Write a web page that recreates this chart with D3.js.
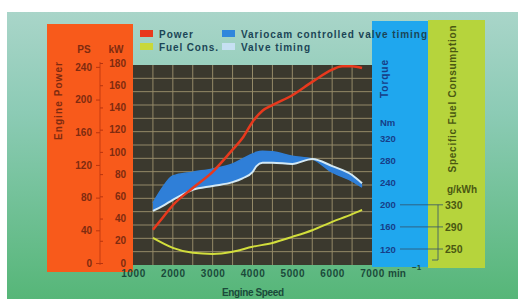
<!DOCTYPE html>
<html><head><meta charset="utf-8">
<script src="https://cdn.jsdelivr.net/npm/d3@7"></script>
<style>body{margin:0;background:#fff}svg{display:block}text{font-family:"Liberation Sans",Arial,sans-serif;font-weight:bold}</style>
</head><body><svg id="c" width="522" height="299"></svg>
<script>
// ---- data ----
const xTicks = [1000,2000,3000,4000,5000,6000,7000];
const psTicks = [0,40,80,120,160,200,240];
const kwTicks = [0,20,40,60,80,100,120,140,160,180];
const torqueTicks = [120,160,200,240,280,320];
const fuelTicks = [250,290,330];
const bracketTicks = [200,160,120];

const powerRpm = [1500,1750,2000,2500,3000,3500,3750,4000,4250,4500,5000,5500,6000,6250,6500,6750];
const powerKw  = [30,41,52,67.5,82,102,112.5,127,137,142,151,163,174,177,177,175.5];

const torqueRpm = [1500,1750,2000,2500,3000,3500,3750,4000,4100,4250,4500,5000,5500,6000,6500,6750];
const variocamNm = [203,232,252,259,265,274,283,292,295,297,296,288,283,259,243,232];
const valveNm    = [189,198,209,227,234,241,248,259,270,276,276,274,283,270,254,239];

const fuelRpm = [1500,2000,2500,3000,3500,4000,4500,5000,5500,6000,6500,6750];
const fuelG   = [270,252,243,241,245,254,261,272,284,299,313,321];

const legendItems = [
  {label:"Power", color:"#e8391d", col:0, row:0, len:34},
  {label:"Fuel Cons.", color:"#c8d83a", col:0, row:1, len:59},
  {label:"Variocam controlled valve timing", color:"#2f86dc", col:1, row:0, len:186},
  {label:"Valve timing", color:"#c6e0f2", col:1, row:1, len:69}
];

// ---- drawing ----
const svg = d3.select("#c");
const defs = svg.append("defs");
const g = defs.append("linearGradient").attr("id","bg").attr("x1",0).attr("y1",0).attr("x2",0).attr("y2",1);
g.append("stop").attr("offset","0%").attr("stop-color","#a9d5c9");
g.append("stop").attr("offset","35%").attr("stop-color","#8ccbb5");
g.append("stop").attr("offset","100%").attr("stop-color","#56b678");

svg.append("rect").attr("width",522).attr("height",299).attr("fill","#fff");
svg.append("rect").attr("x",7).attr("y",12).attr("width",511).attr("height",287).attr("fill","url(#bg)");

const P = {l:133, r:372, t:65, b:265};
const x = d3.scaleLinear().domain([1000,7000]).range([P.l,P.r]);
const kw = d3.scaleLinear().domain([0,180]).range([263,63]);
const ps = d3.scaleLinear().domain([0,240]).range([kw(0), kw(240*0.7355)]);
const tq = d3.scaleLinear().domain([120,320]).range([249,138.5]);
const fu = d3.scaleLinear().domain([250,330]).range([tq(120), tq(200)]);
const grid = d3.scaleLinear().domain([0,15]).range([P.b,P.t]);

// panels
svg.append("rect").attr("x",47).attr("y",24).attr("width",86).attr("height",248).attr("fill","#f85a1b");
svg.append("rect").attr("x",372).attr("y",21).attr("width",56).attr("height",246).attr("fill","#1fa7ee");
svg.append("rect").attr("x",428).attr("y",20).attr("width",57).attr("height",248).attr("fill","#b6d43c");
svg.append("rect").attr("x",P.l).attr("y",P.t).attr("width",P.r-P.l).attr("height",P.b-P.t).attr("fill","#3b392e");

// grid
const gg = svg.append("g").attr("stroke","#b2a57c").attr("stroke-width",1).attr("opacity",0.75);
gg.selectAll("line.v").data(d3.range(1500,7000,500)).join("line")
  .attr("x1",d=>x(d)).attr("x2",d=>x(d)).attr("y1",P.t).attr("y2",P.b);
gg.selectAll("line.h").data(d3.range(1,15)).join("line")
  .attr("y1",d=>grid(d)).attr("y2",d=>grid(d)).attr("x1",P.l).attr("x2",P.r);

// band
const bandData = torqueRpm.map((r,i)=>({r, a:variocamNm[i], b:valveNm[i]}));
svg.append("path").datum(bandData).attr("fill","#2f7fd8")
  .attr("d", d3.area().curve(d3.curveMonotoneX).x(d=>x(d.r)).y0(d=>tq(d.b)).y1(d=>tq(d.a)));
svg.append("path").datum(bandData).attr("fill","none").attr("stroke","#2f7fd8").attr("stroke-width",1.5)
  .attr("d", d3.line().curve(d3.curveMonotoneX).x(d=>x(d.r)).y(d=>tq(d.a)));
svg.append("path").datum(bandData).attr("fill","none").attr("stroke","#d3e9f5").attr("stroke-width",2)
  .attr("d", d3.line().curve(d3.curveMonotoneX).x(d=>x(d.r)).y(d=>tq(d.b)));

// fuel
svg.append("path").datum(fuelRpm.map((r,i)=>[r,fuelG[i]])).attr("fill","none")
  .attr("stroke","#d2de3c").attr("stroke-width",2)
  .attr("d", d3.line().curve(d3.curveMonotoneX).x(d=>x(d[0])).y(d=>fu(d[1])));
// power
svg.append("path").datum(powerRpm.map((r,i)=>[r,powerKw[i]])).attr("fill","none")
  .attr("stroke","#e8391d").attr("stroke-width",2.5)
  .attr("d", d3.line().curve(d3.curveMonotoneX).x(d=>x(d[0])).y(d=>kw(d[1])));

// axes
function style(sel, color, size){
  sel.select(".domain").remove();
  sel.selectAll("text").attr("fill",color).style("font-size",size+"px").style("font-family","'Liberation Sans',Arial,sans-serif").style("font-weight","bold");
}
const orangeText = "#7e2b10";
svg.append("line").attr("x1",100).attr("x2",100).attr("y1",62).attr("y2",265).attr("stroke","#b8340e").attr("stroke-width",0.8);
const psAx = svg.append("g").attr("transform","translate(100,0)")
  .call(d3.axisLeft(ps).tickValues(psTicks).tickSize(4).tickPadding(4).tickFormat(d3.format("d")));
style(psAx, orangeText, 10); psAx.selectAll("line").attr("stroke","#b8340e");
const kwAx = svg.append("g").attr("transform","translate(100,0)")
  .call(d3.axisRight(kw).tickValues(kwTicks).tickSize(3).tickPadding(0).tickFormat(""));
kwAx.select(".domain").remove(); kwAx.selectAll("line").attr("stroke","#b8340e");
const kwAx2 = svg.append("g").attr("transform","translate(126,0)")
  .call(d3.axisLeft(kw).tickValues(kwTicks).tickSize(0).tickPadding(0).tickFormat(d3.format("d")));
style(kwAx2, orangeText, 10);

const xAx = svg.append("g").attr("transform",`translate(0,${P.b})`)
  .call(d3.axisBottom(x).tickValues(xTicks).tickSize(0).tickPadding(5).tickFormat(d3.format("d")));
style(xAx, "#1b4a3a", 10); xAx.selectAll("text").attr("letter-spacing","0.6px");

const tqAx = svg.append("g").attr("transform","translate(380,0)")
  .call(d3.axisRight(tq).tickValues(torqueTicks).tickSize(0).tickPadding(0).tickFormat(d3.format("d")));
style(tqAx, "#173e88", 9.5);
const fuAx = svg.append("g").attr("transform","translate(445,0)")
  .call(d3.axisRight(fu).tickValues(fuelTicks).tickSize(0).tickPadding(0).tickFormat(d3.format("d")));
style(fuAx, "#4a5812", 10.5);

// bracket
const br = svg.append("g").attr("stroke","#33506a").attr("stroke-width",0.8);
br.selectAll("line.b").data(bracketTicks).join("line")
  .attr("x1",400).attr("x2",443).attr("y1",d=>tq(d)).attr("y2",d=>tq(d));
br.append("line").attr("x1",438).attr("x2",438).attr("y1",tq(200)).attr("y2",260);
br.append("line").attr("x1",432).attr("x2",438).attr("y1",260).attr("y2",260);

// titles
function t(txt,xx,yy,opt={}){
  const e = svg.append("text").attr("x",xx).attr("y",yy).text(txt)
    .attr("fill",opt.color||"#1b4556").style("font-size",(opt.size||10)+"px")
    .attr("text-anchor",opt.anchor||"start");
  if(opt.rot) e.attr("transform",`rotate(-90,${xx},${yy})`);
  if(opt.len) e.attr("textLength",opt.len).attr("lengthAdjust","spacing");
  return e;
}
t("Engine Power",62,101,{rot:true,anchor:"middle",color:orangeText,len:78,size:10});
t("PS",84,53,{anchor:"middle",color:orangeText});
t("kW",116,53,{anchor:"middle",color:orangeText});
t("Torque",388,79,{rot:true,anchor:"middle",color:"#173e88",len:38});
t("Nm",380,126,{color:"#173e88",size:9.5});
t("Specific Fuel Consumption",456,99,{rot:true,anchor:"middle",color:"#4a5812",len:147,size:10});
t("g/kWh",447,193,{color:"#4a5812",size:10});
t("Engine Speed",253,296,{anchor:"middle",color:"#1b4a3a",len:62});
const mn = t("min",388,277,{color:"#1b4a3a"});
t("\u22121",412,270,{color:"#1b4a3a",size:8});

// legend
const lg = svg.append("g");
legendItems.forEach(d=>{
  const lx = d.col ? 222 : 140, ly = d.row ? 43 : 30;
  lg.append("rect").attr("x",lx).attr("y",ly).attr("width",13).attr("height",7).attr("fill",d.color);
  lg.append("text").attr("x",lx+19).attr("y",ly+7.5).text(d.label).attr("fill","#1b4556")
    .style("font-size","10px").attr("textLength",d.len).attr("lengthAdjust","spacing");
});
</script></body></html>
